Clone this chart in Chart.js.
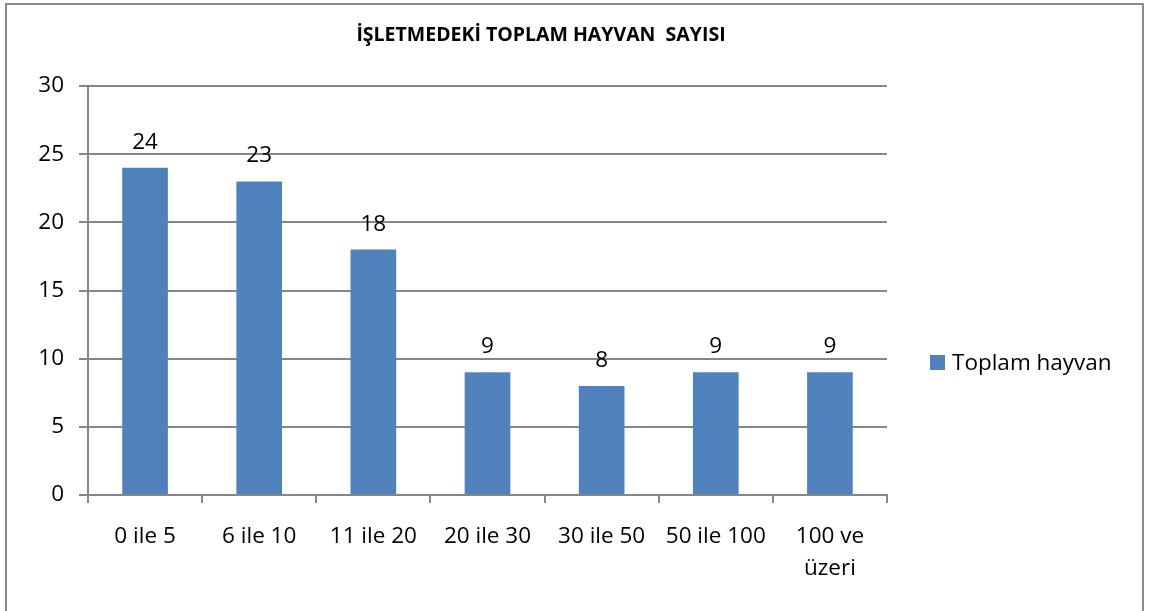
<!DOCTYPE html>
<html>
<head>
<meta charset="utf-8">
<script src="https://cdn.jsdelivr.net/npm/chart.js@4.4.1/dist/chart.umd.min.js"></script>
<style>
  html, body { margin: 0; padding: 0; background: #ffffff; }
  #wrap { width: 1152px; height: 611px; position: relative; }
</style>
</head>
<body>
<div id="wrap"><canvas id="c" width="1152" height="611"></canvas></div>
<script>
const categories = ["0 ile 5", "6 ile 10", "11 ile 20", "20 ile 30", "30 ile 50", "50 ile 100", ["100 ve", "üzeri"]];
const seriesName = "Toplam hayvan";
const seriesValues = [24, 23, 18, 9, 8, 9, 9];
const yTicks = [0, 5, 10, 15, 20, 25, 30];
const chartTitle = "İŞLETMEDEKİ TOPLAM HAYVAN  SAYISI";

const FONT = "'Open Sans', 'DejaVu Sans', sans-serif";
const GRID = "#868686";
const BAR = "#4F81BD";
const FS = 22.5;

const decor = {
  id: "decor",
  beforeDraw(chart) {
    const ctx = chart.ctx;
    ctx.save();
    ctx.fillStyle = "#ffffff";
    ctx.fillRect(0, 0, chart.width, chart.height);
    ctx.strokeStyle = "#8a8a8a";
    ctx.lineWidth = 2;
    ctx.strokeRect(6, 4, 1137, 640);
    ctx.restore();
  },
  afterDatasetsDraw(chart) {
    const ctx = chart.ctx;
    const meta = chart.getDatasetMeta(0);
    ctx.save();
    ctx.font = FS + "px " + FONT;
    ctx.fillStyle = "#000000";
    ctx.textAlign = "center";
    ctx.textBaseline = "alphabetic";
    meta.data.forEach((bar, i) => {
      ctx.fillText(String(chart.data.datasets[0].data[i]), bar.x, bar.y - 19);
    });
    ctx.restore();
  },
  afterDraw(chart) {
    const ctx = chart.ctx;
    ctx.save();
    // title
    ctx.font = "bold 19.5px " + FONT;
    ctx.fillStyle = "#000000";
    ctx.textAlign = "center";
    ctx.textBaseline = "alphabetic";
    ctx.fillText(chartTitle, 541, 41);
    // legend
    const ds = chart.data.datasets[0];
    ctx.fillStyle = ds.backgroundColor;
    ctx.fillRect(930, 355, 15, 15);
    ctx.fillStyle = "#000000";
    ctx.textAlign = "left";
    ctx.font = FS + "px " + FONT;
    ctx.fillText(ds.label, 952, 370);
    ctx.restore();
  }
};

new Chart(document.getElementById("c"), {
  type: "bar",
  data: {
    labels: categories,
    datasets: [{
      label: seriesName,
      data: seriesValues,
      backgroundColor: BAR,
      borderWidth: 0,
      barPercentage: 0.4,
      categoryPercentage: 1.0
    }]
  },
  plugins: [decor],
  options: {
    responsive: false,
    animation: false,
    devicePixelRatio: 1,
    layout: { padding: { left: 0, right: 265, top: 86, bottom: 0 } },
    plugins: {
      legend: { display: false },
      title: { display: false },
      tooltip: { enabled: false }
    },
    scales: {
      x: {
        grid: {
          display: true,
          drawOnChartArea: false,
          drawTicks: true,
          tickLength: 8,
          color: GRID,
          lineWidth: 2,
          offset: true
        },
        border: { display: true, color: GRID, width: 2 },
        ticks: {
          color: "#000000",
          font: { family: FONT, size: FS, lineHeight: 1.42 },
          padding: 18,
          maxRotation: 0,
          autoSkip: false
        },
        afterFit(scale) { scale.height = 116; }
      },
      y: {
        min: 0,
        max: 30,
        afterBuildTicks(scale) { scale.ticks = yTicks.map(v => ({ value: v })); },
        grid: {
          color: GRID,
          lineWidth: 2,
          tickLength: 9,
          drawTicks: true
        },
        border: { display: true, color: GRID, width: 2 },
        ticks: {
          color: "#000000",
          font: { family: FONT, size: FS },
          padding: 15
        },
        afterFit(scale) { scale.width = 88; }
      }
    }
  }
});
</script>
</body>
</html>
